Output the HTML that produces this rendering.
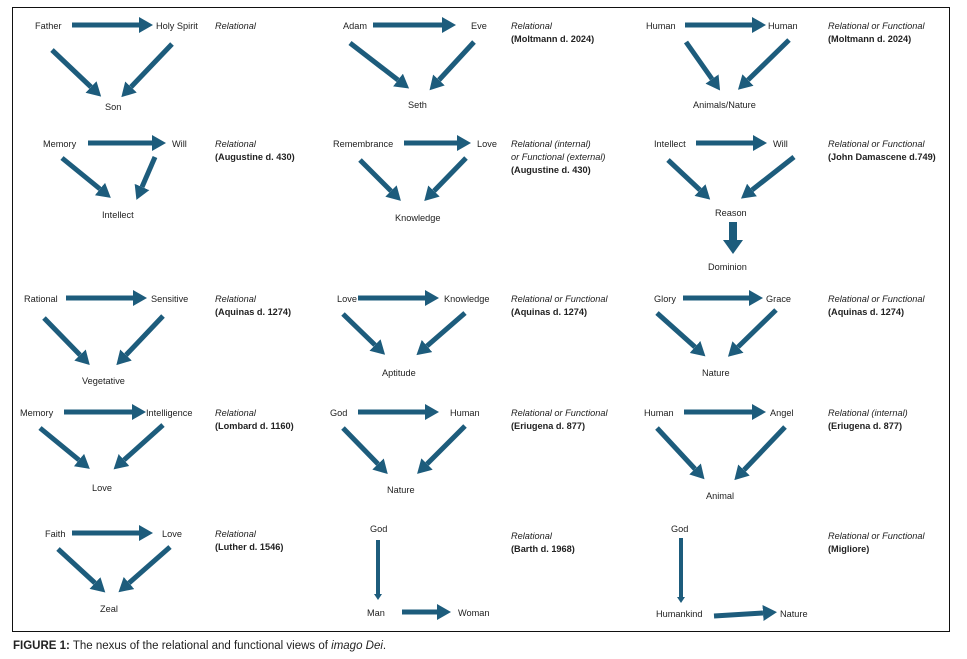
<!DOCTYPE html>
<html><head><meta charset="utf-8"><style>
html,body{margin:0;padding:0;background:#fff;width:967px;height:659px;overflow:hidden}
svg text{font-family:"Liberation Sans",sans-serif;font-size:9.2px;fill:#222}
.i{font-style:italic}
.b{font-weight:bold}
</style></head><body>
<svg width="967" height="659" viewBox="0 0 967 659" xmlns="http://www.w3.org/2000/svg">
<defs>
<marker id="h" markerUnits="userSpaceOnUse" markerWidth="14" markerHeight="16" refX="0" refY="8" orient="auto"><path d="M0,0 L14,8 L0,16 z" fill="#1d5c7c"/></marker>
<marker id="s" markerUnits="userSpaceOnUse" markerWidth="8" markerHeight="8" refX="0" refY="4" orient="auto"><path d="M0,0 L6,4 L0,8 z" fill="#1d5c7c"/></marker>
<marker id="d" markerUnits="userSpaceOnUse" markerWidth="14" markerHeight="20" refX="0" refY="10" orient="auto"><path d="M0,0 L14,10 L0,20 z" fill="#1d5c7c"/></marker>
</defs>
<rect x="12.5" y="7.5" width="937" height="624" fill="none" stroke="#111" stroke-width="1"/>
<g stroke="#1d5c7c" stroke-width="5" marker-end="url(#h)" fill="none">
<line x1="72" y1="25" x2="139" y2="25"/>
<line x1="52" y1="50" x2="91" y2="87"/>
<line x1="172" y1="44" x2="131" y2="87"/>
<line x1="373" y1="25" x2="442" y2="25"/>
<line x1="350" y1="43" x2="398" y2="80"/>
<line x1="474" y1="42" x2="439" y2="80"/>
<line x1="685" y1="25" x2="752" y2="25"/>
<line x1="686" y1="42" x2="712" y2="79"/>
<line x1="789" y1="40" x2="748" y2="80"/>
<line x1="88" y1="143" x2="152" y2="143"/>
<line x1="62" y1="158" x2="100" y2="189"/>
<line x1="155" y1="157" x2="142" y2="187"/>
<line x1="404" y1="143" x2="457" y2="143"/>
<line x1="360" y1="160" x2="391" y2="191"/>
<line x1="466" y1="158" x2="434" y2="191"/>
<line x1="696" y1="143" x2="753" y2="143"/>
<line x1="668" y1="160" x2="700" y2="190"/>
<line x1="794" y1="157" x2="752" y2="190"/>
<line x1="733" y1="222" x2="733" y2="240" stroke-width="8" marker-end="url(#d)"/>
<line x1="66" y1="298" x2="133" y2="298"/>
<line x1="44" y1="318" x2="80" y2="355"/>
<line x1="163" y1="316" x2="126" y2="355"/>
<line x1="358" y1="298" x2="425" y2="298"/>
<line x1="343" y1="314" x2="375" y2="345"/>
<line x1="465" y1="313" x2="427" y2="346"/>
<line x1="683" y1="298" x2="749" y2="298"/>
<line x1="657" y1="313" x2="695" y2="347"/>
<line x1="776" y1="310" x2="738" y2="347"/>
<line x1="64" y1="412" x2="132" y2="412"/>
<line x1="40" y1="428" x2="79" y2="460"/>
<line x1="163" y1="425" x2="124" y2="460"/>
<line x1="358" y1="412" x2="425" y2="412"/>
<line x1="343" y1="428" x2="378" y2="464"/>
<line x1="465" y1="426" x2="427" y2="464"/>
<line x1="684" y1="412" x2="752" y2="412"/>
<line x1="657" y1="428" x2="695" y2="469"/>
<line x1="785" y1="427" x2="744" y2="470"/>
<line x1="72" y1="533" x2="139" y2="533"/>
<line x1="58" y1="549" x2="95" y2="583"/>
<line x1="170" y1="547" x2="129" y2="583"/>
<line x1="402" y1="612" x2="437" y2="612"/>
<line x1="714" y1="616" x2="763" y2="613"/>
<line x1="378" y1="540" x2="378" y2="594" stroke-width="4" marker-end="url(#s)"/>
<line x1="681" y1="538" x2="681" y2="597" stroke-width="4" marker-end="url(#s)"/>
</g>
<g>
<text x="35" y="29">Father</text><text x="156" y="29">Holy Spirit</text><text x="105" y="110">Son</text>
<text x="343" y="29">Adam</text><text x="471" y="29">Eve</text><text x="408" y="108">Seth</text>
<text x="646" y="29">Human</text><text x="768" y="29">Human</text><text x="693" y="108">Animals/Nature</text>
<text x="43" y="147">Memory</text><text x="172" y="147">Will</text><text x="102" y="218">Intellect</text>
<text x="333" y="147">Remembrance</text><text x="477" y="147">Love</text><text x="395" y="221">Knowledge</text>
<text x="654" y="147">Intellect</text><text x="773" y="147">Will</text><text x="715" y="216">Reason</text><text x="708" y="270">Dominion</text>
<text x="24" y="302">Rational</text><text x="151" y="302">Sensitive</text><text x="82" y="384">Vegetative</text>
<text x="337" y="302">Love</text><text x="444" y="302">Knowledge</text><text x="382" y="376">Aptitude</text>
<text x="654" y="302">Glory</text><text x="766" y="302">Grace</text><text x="702" y="376">Nature</text>
<text x="20" y="416">Memory</text><text x="146" y="416">Intelligence</text><text x="92" y="491">Love</text>
<text x="330" y="416">God</text><text x="450" y="416">Human</text><text x="387" y="493">Nature</text>
<text x="644" y="416">Human</text><text x="770" y="416">Angel</text><text x="706" y="499">Animal</text>
<text x="45" y="537">Faith</text><text x="162" y="537">Love</text><text x="100" y="612">Zeal</text>
<text x="370" y="532">God</text><text x="367" y="616">Man</text><text x="458" y="616">Woman</text>
<text x="671" y="532">God</text><text x="656" y="617">Humankind</text><text x="780" y="617">Nature</text>
<text class="i" x="215" y="29">Relational</text>
<text class="i" x="511" y="29">Relational</text><text class="b" x="511" y="42">(Moltmann d. 2024)</text>
<text class="i" x="828" y="29">Relational or Functional</text><text class="b" x="828" y="42">(Moltmann d. 2024)</text>
<text class="i" x="215" y="147">Relational</text><text class="b" x="215" y="160">(Augustine d. 430)</text>
<text class="i" x="511" y="147">Relational (internal)</text><text class="i" x="511" y="160">or Functional (external)</text><text class="b" x="511" y="173">(Augustine d. 430)</text>
<text class="i" x="828" y="147">Relational or Functional</text><text class="b" x="828" y="160">(John Damascene d.749)</text>
<text class="i" x="215" y="302">Relational</text><text class="b" x="215" y="315">(Aquinas d. 1274)</text>
<text class="i" x="511" y="302">Relational or Functional</text><text class="b" x="511" y="315">(Aquinas d. 1274)</text>
<text class="i" x="828" y="302">Relational or Functional</text><text class="b" x="828" y="315">(Aquinas d. 1274)</text>
<text class="i" x="215" y="416">Relational</text><text class="b" x="215" y="429">(Lombard d. 1160)</text>
<text class="i" x="511" y="416">Relational or Functional</text><text class="b" x="511" y="429">(Eriugena d. 877)</text>
<text class="i" x="828" y="416">Relational (internal)</text><text class="b" x="828" y="429">(Eriugena d. 877)</text>
<text class="i" x="215" y="537">Relational</text><text class="b" x="215" y="550">(Luther d. 1546)</text>
<text class="i" x="511" y="539">Relational</text><text class="b" x="511" y="552">(Barth d. 1968)</text>
<text class="i" x="828" y="539">Relational or Functional</text><text class="b" x="828" y="552">(Migliore)</text>
<text x="13" y="649" style="font-size:11.5px"><tspan class="b">FIGURE 1:</tspan> The nexus of the relational and functional views of <tspan class="i">imago Dei</tspan>.</text>
</g>
</svg>
</body></html>
